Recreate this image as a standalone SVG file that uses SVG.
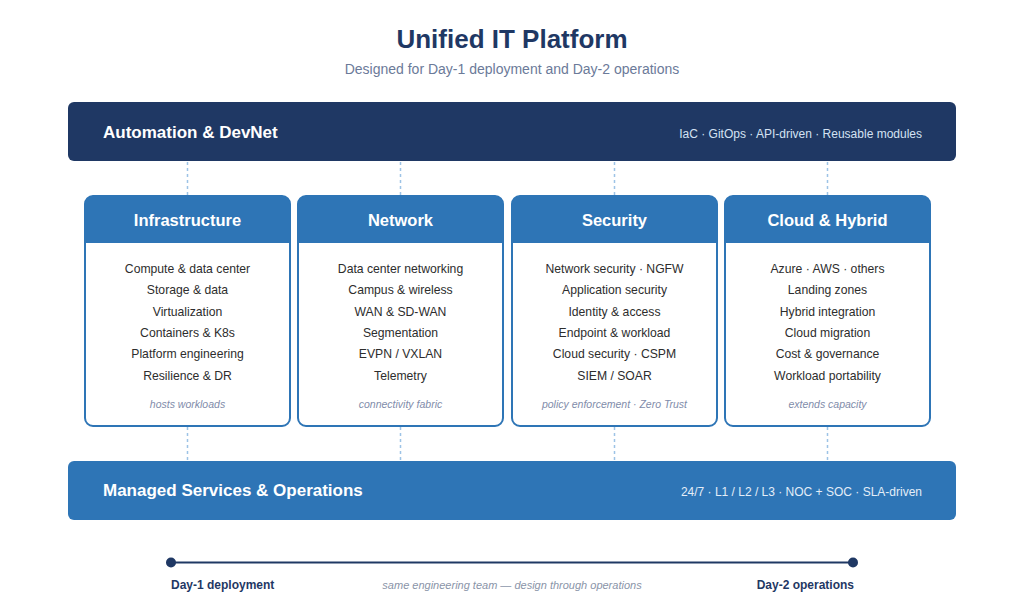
<svg xmlns="http://www.w3.org/2000/svg" width="1024" height="614" viewBox="0 0 1024 614">
<style>
text{font-family:"Liberation Sans",Arial,sans-serif}
.title{font-size:26px;font-weight:bold;fill:#1f3864;text-anchor:middle}
.sub{font-size:14px;fill:#6b7a99;text-anchor:middle}
.barT{font-size:17px;font-weight:bold;fill:#fff}
.barR{font-size:12px;fill:#d4e2f3;text-anchor:end}
.card{fill:#fff;stroke:#2e75b6;stroke-width:2}
.head{fill:#2e75b6}
.cardT{font-size:16.5px;font-weight:bold;fill:#fff;text-anchor:middle}
.item{font-size:12.2px;fill:#2d2d2d;text-anchor:middle}
.foot{font-size:10.5px;font-style:italic;fill:#7f8caa;text-anchor:middle}
.conn{stroke:#9dc3e6;stroke-width:1.5;stroke-dasharray:3,3;fill:none}
.tl{font-size:12px;font-weight:bold;fill:#1f3864}
.tlm{font-size:11px;font-style:italic;fill:#8a94a8;text-anchor:middle}
</style>
<rect width="1024" height="614" fill="#fff"/>
<text class="title" x="512" y="48">Unified IT Platform</text>
<text class="sub" x="512" y="74">Designed for Day-1 deployment and Day-2 operations</text>

<g id="connectors">
<line class="conn" x1="187.5" y1="162" x2="187.5" y2="195"/>
<line class="conn" x1="400.5" y1="162" x2="400.5" y2="195"/>
<line class="conn" x1="614.5" y1="162" x2="614.5" y2="195"/>
<line class="conn" x1="827.5" y1="162" x2="827.5" y2="195"/>
<line class="conn" x1="187.5" y1="427" x2="187.5" y2="460"/>
<line class="conn" x1="400.5" y1="427" x2="400.5" y2="460"/>
<line class="conn" x1="614.5" y1="427" x2="614.5" y2="460"/>
<line class="conn" x1="827.5" y1="427" x2="827.5" y2="460"/>
</g>

<g id="automation">
<rect x="68" y="102" width="888" height="59" rx="6" fill="#1f3864"/>
<text class="barT" x="103" y="138">Automation &amp; DevNet</text>
<text class="barR" x="922" y="138">IaC · GitOps · API-driven · Reusable modules</text>
</g>

<g id="infrastructure">
<rect class="card" x="85" y="196" width="205" height="230" rx="8"/>
<path class="head" d="M85,243 V204 a8,8 0 0 1 8,-8 H282 a8,8 0 0 1 8,8 V243 Z"/>
<text class="cardT" x="187.5" y="226">Infrastructure</text>
<text class="item" x="187.5" y="273">Compute &amp; data center</text>
<text class="item" x="187.5" y="294">Storage &amp; data</text>
<text class="item" x="187.5" y="315.5">Virtualization</text>
<text class="item" x="187.5" y="337">Containers &amp; K8s</text>
<text class="item" x="187.5" y="358">Platform engineering</text>
<text class="item" x="187.5" y="379.5">Resilience &amp; DR</text>
<text class="foot" x="187.5" y="408">hosts workloads</text>
</g>

<g id="network">
<rect class="card" x="298" y="196" width="205" height="230" rx="8"/>
<path class="head" d="M298,243 V204 a8,8 0 0 1 8,-8 H495 a8,8 0 0 1 8,8 V243 Z"/>
<text class="cardT" x="400.5" y="226">Network</text>
<text class="item" x="400.5" y="273">Data center networking</text>
<text class="item" x="400.5" y="294">Campus &amp; wireless</text>
<text class="item" x="400.5" y="315.5">WAN &amp; SD-WAN</text>
<text class="item" x="400.5" y="337">Segmentation</text>
<text class="item" x="400.5" y="358">EVPN / VXLAN</text>
<text class="item" x="400.5" y="379.5">Telemetry</text>
<text class="foot" x="400.5" y="408">connectivity fabric</text>
</g>

<g id="security">
<rect class="card" x="512" y="196" width="205" height="230" rx="8"/>
<path class="head" d="M512,243 V204 a8,8 0 0 1 8,-8 H709 a8,8 0 0 1 8,8 V243 Z"/>
<text class="cardT" x="614.5" y="226">Security</text>
<text class="item" x="614.5" y="273">Network security · NGFW</text>
<text class="item" x="614.5" y="294">Application security</text>
<text class="item" x="614.5" y="315.5">Identity &amp; access</text>
<text class="item" x="614.5" y="337">Endpoint &amp; workload</text>
<text class="item" x="614.5" y="358">Cloud security · CSPM</text>
<text class="item" x="614.5" y="379.5">SIEM / SOAR</text>
<text class="foot" x="614.5" y="408">policy enforcement · Zero Trust</text>
</g>

<g id="cloud">
<rect class="card" x="725" y="196" width="205" height="230" rx="8"/>
<path class="head" d="M725,243 V204 a8,8 0 0 1 8,-8 H922 a8,8 0 0 1 8,8 V243 Z"/>
<text class="cardT" x="827.5" y="226">Cloud &amp; Hybrid</text>
<text class="item" x="827.5" y="273">Azure · AWS · others</text>
<text class="item" x="827.5" y="294">Landing zones</text>
<text class="item" x="827.5" y="315.5">Hybrid integration</text>
<text class="item" x="827.5" y="337">Cloud migration</text>
<text class="item" x="827.5" y="358">Cost &amp; governance</text>
<text class="item" x="827.5" y="379.5">Workload portability</text>
<text class="foot" x="827.5" y="408">extends capacity</text>
</g>

<g id="managed">
<rect x="68" y="461" width="888" height="59" rx="6" fill="#2e75b6"/>
<text class="barT" x="103" y="496">Managed Services &amp; Operations</text>
<text class="barR" x="922" y="496" style="fill:#e3edf8">24/7 · L1 / L2 / L3 · NOC + SOC · SLA-driven</text>
</g>

<g id="timeline">
<line x1="171" y1="562.5" x2="853" y2="562.5" stroke="#1f3864" stroke-width="2"/>
<circle cx="171" cy="562.5" r="5" fill="#1f3864"/>
<circle cx="853" cy="562.5" r="5" fill="#1f3864"/>
<text class="tl" x="171" y="589">Day-1 deployment</text>
<text class="tlm" x="512" y="589">same engineering team — design through operations</text>
<text class="tl" x="854" y="589" text-anchor="end">Day-2 operations</text>
</g>
</svg>
